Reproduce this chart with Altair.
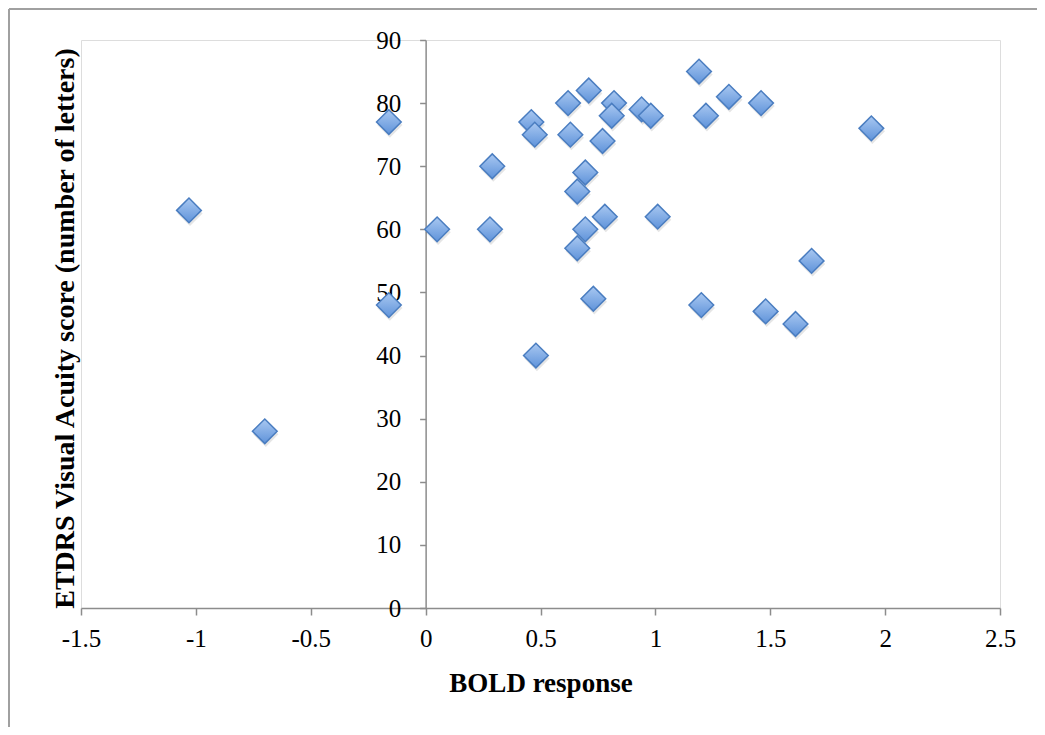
import altair as alt
import pandas as pd

bold_response = [-1.03, -0.70, -0.16, -0.16, 0.05, 0.29, 0.28, 0.46, 0.475, 0.48,
                 0.62, 0.63, 0.71, 0.82, 0.81, 0.77, 0.695, 0.66, 0.78, 0.695,
                 0.66, 0.73, 0.94, 0.98, 1.01, 1.19, 1.22, 1.20, 1.32, 1.46,
                 1.48, 1.61, 1.68, 1.94]
etdrs_score = [63, 28, 77, 48, 60, 70, 60, 77, 75, 40,
               80, 75, 82, 80, 78, 74, 69, 66, 62, 60,
               57, 49, 79, 78, 62, 85, 78, 48, 81, 80,
               47, 45, 55, 76]

x_ticks = [-1.5, -1, -0.5, 0, 0.5, 1, 1.5, 2, 2.5]
y_ticks = [0, 10, 20, 30, 40, 50, 60, 70, 80, 90]

df = pd.DataFrame({"x": bold_response, "y": etdrs_score})

W, H = 919, 568
AX = "#8c8c8c"
FONT = "Liberation Serif"

xscale = alt.Scale(domain=[-1.5, 2.5], nice=False, zero=False)
yscale = alt.Scale(domain=[0, 90], nice=False, zero=False)

x_axis = alt.Axis(values=x_ticks, labelExpr="datum.value + ''", grid=False,
                  tickSize=7, tickColor=AX, tickWidth=1.5, domainColor=AX, domainWidth=1.5,
                  labelFont=FONT, labelFontSize=25, labelColor="black", labelPadding=11,
                  labelFlush=False, labelOverlap=False,
                  title="BOLD response", titleFont=FONT, titleFontSize=27,
                  titleFontWeight="bold", titleColor="black", titlePadding=19)
y_axis = alt.Axis(values=y_ticks, grid=False, offset=-W * 0.375,
                  tickSize=6, tickColor=AX, tickWidth=1.5, domainColor=AX, domainWidth=1.5,
                  labelFont=FONT, labelFontSize=25, labelColor="black", labelPadding=19,
                  labelFlush=False, labelOverlap=False,
                  title="ETDRS Visual Acuity score (number of letters)", titleFont=FONT,
                  titleFontSize=28, titleFontWeight="bold", titleColor="black",
                  titleBaseline="middle", titleX=-360, titleY=288, titleAngle=270)

grad = alt.Gradient(gradient="linear",
                    stops=[alt.GradientStop(color="#a9c8f1", offset=0),
                           alt.GradientStop(color="#5f93da", offset=1)],
                    x1=0, x2=0, y1=0, y2=1)

shadow = alt.Chart(df).mark_point(shape="diamond", filled=True, size=640, color="#000000",
                                  opacity=0.1, yOffset=3, xOffset=1).encode(
    x=alt.X("x:Q", scale=xscale, axis=x_axis),
    y=alt.Y("y:Q", scale=yscale, axis=y_axis),
)

points = alt.Chart(df).mark_point(shape="diamond", filled=True, size=610, fill=grad,
                                  stroke="#4a7dc0", strokeWidth=1.5, opacity=1).encode(
    x=alt.X("x:Q", scale=xscale, axis=x_axis),
    y=alt.Y("y:Q", scale=yscale, axis=y_axis),
)

frame_df = pd.DataFrame({"k": [0]})
left_border = alt.Chart(frame_df).mark_rule(color="#a0a0a0", strokeWidth=2).encode(
    x=alt.value(-72), y=alt.value(-31), y2=alt.value(H + 200))
top_border = alt.Chart(frame_df).mark_rule(color="#a0a0a0", strokeWidth=2).encode(
    x=alt.value(-72), x2=alt.value(W + 100), y=alt.value(-31))

chart = alt.layer(left_border, top_border, shadow, points).properties(
    width=W, height=H,
    autosize=alt.AutoSizeParams(type="none"),
    padding={"left": 73, "top": 32, "right": 37, "bottom": 119},
).configure_view(stroke=None).configure(background="white")

chart.save("out.html", embed_options={"renderer": "svg", "actions": False})
